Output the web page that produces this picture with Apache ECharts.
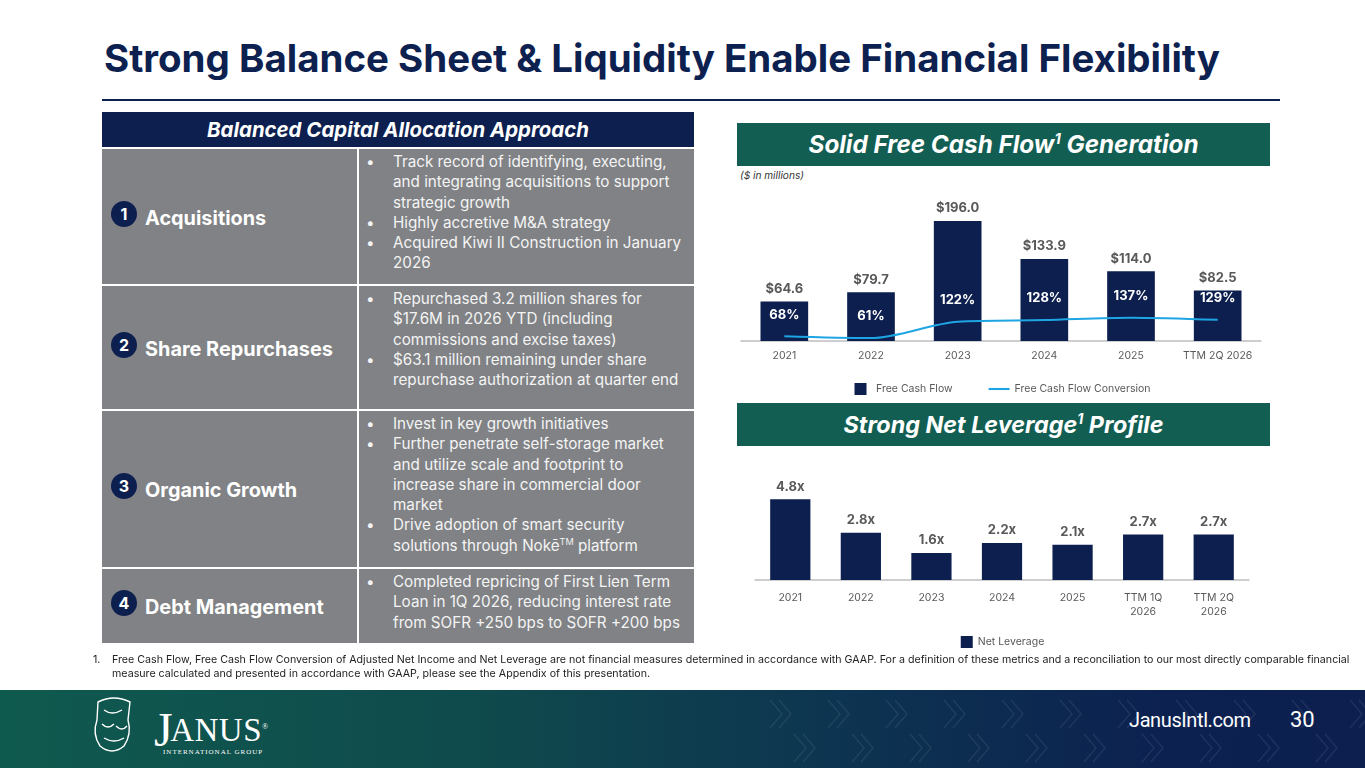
<!DOCTYPE html>
<html>
<head>
<meta charset="utf-8">
<script src="https://cdn.jsdelivr.net/npm/echarts/dist/echarts.min.js"></script>
<style>
	body { margin: 0; width: 1365px; height: 768px; position: relative; overflow: hidden; background: #fff; font-family: Inter, Roboto, "Noto Sans", sans-serif; }
	#title { position: absolute; left: 104px; top: 37px; font-size: 34px; font-weight: 700; color: #0d2150; white-space: nowrap; line-height: 42px; }
	#rule { position: absolute; left: 102px; top: 99px; width: 1178px; height: 2px; background: #0d2150; }
	.cell { position: absolute; background: #808285; box-sizing: border-box; }
	#tblhead { position: absolute; left: 102px; top: 112px; width: 592px; height: 35px; background: #0d1f4e; color: #fff; font-weight: 700; font-style: italic; text-align: center; line-height: 35px; }
	#tblhead span, .sec span { font-size: 18px; white-space: nowrap; }
	.lbl { display: flex; align-items: center; height: 100%; padding-left: 9px; color: #fff; font-weight: 700; }
	.lbl span { font-size: 18px; white-space: nowrap; position: relative; top: 1px; }
	.num { width: 26px; height: 26px; border-radius: 50%; background: #0d1f4e; color: #fff; font-size: 16px; text-align: center; line-height: 26px; margin-right: 8px; position: relative; top: -3px; flex: none; }
	ul { margin: 0; padding: 3px 8px 0 34px; list-style: none; color: #f4f4f4; font-size: 15px; line-height: 20.3px; }
	li { position: relative; }
	li:before { content: "\2022"; position: absolute; left: -27px; }
	.sec { position: absolute; left: 737px; width: 533px; height: 43px; background: #135e52; color: #fff; font-weight: 700; font-style: italic; text-align: center; line-height: 43px; }
	sup { font-size: 0.6em; vertical-align: super; line-height: 0; }
	#unit { position: absolute; left: 740px; top: 169px; font-size: 10px; font-style: italic; color: #333; white-space: nowrap; }
	#foot { position: absolute; left: 93px; top: 653px; font-size: 10px; color: #222; line-height: 14px; }
	#foot > span { position: absolute; left: 0; }
	#foot div { padding-left: 19px; white-space: nowrap; }
	#footer { position: absolute; left: 0; top: 690px; width: 1365px; height: 78px; background: linear-gradient(90deg, #0f5a4f 0%, #0f4a4c 35%, #0d3550 60%, #0c2150 85%, #0c1f4f 100%); overflow: hidden; }
	#web { position: absolute; left: 1129px; top: 708px; color: #fff; font-family: Roboto, sans-serif; font-size: 20px; letter-spacing: -0.4px; white-space: nowrap; }
	#page { position: absolute; left: 1290px; top: 707px; color: #fff; font-family: Roboto, sans-serif; font-size: 22px; }
	#janus { position: absolute; left: 154px; top: 697px; color: #fff; font-family: "Liberation Serif", "DejaVu Serif", serif; font-size: 33px; letter-spacing: 0.5px; }
	#janus b { font-size: 48px; font-weight: 400; position: relative; top: 5px; margin-right: -3px; }
	#janus i { font-style: normal; font-size: 8px; vertical-align: super; }
	#intl { position: absolute; left: 163px; top: 748px; color: #fff; font-family: "Liberation Serif", serif; font-size: 7px; letter-spacing: 1px; }
	.chart { position: absolute; }
	#probe { position: absolute; left: -2000px; top: 0; white-space: nowrap; font-size: 15px; }
</style>
</head>
<body>
<div id="title">Strong Balance Sheet &amp; Liquidity Enable Financial Flexibility</div>
<div id="rule"></div>

<div id="tblhead"><span id="tblhead_t">Balanced Capital Allocation Approach</span></div>
<div id="tbl"></div>

<div class="sec" style="top:123px"><span id="sec1">Solid Free Cash Flow<sup>1</sup> Generation</span></div>
<div id="unit">($ in millions)</div>
<div class="chart" id="fcf" style="left:730px; top:170px; width:545px; height:230px"></div>
<div class="sec" style="top:403px"><span id="sec2">Strong Net Leverage<sup>1</sup> Profile</span></div>
<div class="chart" id="lev" style="left:730px; top:450px; width:545px; height:210px"></div>

<div id="foot"><span>1.</span><div><span id="foot1">Free Cash Flow, Free Cash Flow Conversion of Adjusted Net Income and Net Leverage are not financial measures determined in accordance with GAAP. For a definition of these metrics and a reconciliation to our most directly comparable financial</span></div><div>measure calculated and presented in accordance with GAAP, please see the Appendix of this presentation.</div></div>

<div id="footer">
	<svg width="1365" height="78" style="position:absolute;left:0;top:0">
		<g fill="none" stroke="#ffffff" stroke-opacity="0.08" stroke-width="1.5" id="chev"></g>
		<g fill="none" stroke="#ffffff" stroke-width="1.4">
			<path d="M98 12 Q114 4 130 12 L128 30 Q132 44 124 56 Q112 66 100 56 Q92 44 97 30 Z"/>
			<path d="M104 20 Q112 26 122 20 M102 34 Q108 40 114 34 M116 36 Q122 42 127 36 M104 48 Q114 54 124 48"/>
		</g>
	</svg>
</div>
<div id="janus"><b>J</b>ANUS<i>®</i></div>
<div id="intl">INTERNATIONAL GROUP</div>
<div id="web">JanusIntl.com</div>
<div id="page">30</div>
<span id="probe">Track record of identifying, executing,</span>

<script>
// free cash flow ($M) and conversion (%)
var fcfYears = ['2021', '2022', '2023', '2024', '2025', 'TTM 2Q 2026'];
var fcfValues = [64.6, 79.7, 196.0, 133.9, 114.0, 82.5];
var fcfConversion = [68, 61, 122, 128, 137, 129];

// net leverage (x)
var levYears = ['2021', '2022', '2023', '2024', '2025', 'TTM 1Q\n2026', 'TTM 2Q\n2026'];
var levValues = [4.8, 2.8, 1.6, 2.2, 2.1, 2.7, 2.7];

// table rows
var rowNames = ['Acquisitions', 'Share Repurchases', 'Organic Growth', 'Debt Management'];
var rowBullets = [
	['Track record of identifying, executing, and integrating acquisitions to support strategic growth', 'Highly accretive M&amp;A strategy', 'Acquired Kiwi II Construction in January 2026'],
	['Repurchased 3.2 million shares for $17.6M in 2026 YTD (including commissions and excise taxes)', '$63.1 million remaining under share repurchase authorization at quarter end'],
	['Invest in key growth initiatives', 'Further penetrate self-storage market and utilize scale and footprint to increase share in commercial door market', 'Drive adoption of smart security solutions through Nok&#275;<sup>TM</sup> platform'],
	['Completed repricing of First Lien Term Loan in 1Q 2026, reducing interest rate from SOFR +250 bps to SOFR +200 bps']
];
var rowTops = [147, 284, 409, 567, 643];

var navy = '#0d1f4e';
var grey = '#595959';
var lineBlue = '#1ea5e3';

// scale an element's font so its text spans w pixels
function fitWidth(el, w) {
	var r = el.getBoundingClientRect().width;
	var fs = parseFloat(getComputedStyle(el).fontSize);
	var n = fs * w / r;
	el.style.fontSize = n + 'px';
	return n;
}

window.onload = function() {
	var html = '';
	for (var i = 0; i < rowNames.length; i++) {
		var t = rowTops[i] + 2, h = rowTops[i + 1] - rowTops[i] - 2;
		html += '<div class="cell" style="left:102px;top:' + t + 'px;width:255px;height:' + h + 'px"><div class="lbl"><div class="num">' + (i + 1) + '</div><span>' + rowNames[i] + '</span></div></div>';
		html += '<div class="cell" style="left:359px;top:' + t + 'px;width:335px;height:' + h + 'px"><ul>';
		for (var j = 0; j < rowBullets[i].length; j++) html += '<li>' + rowBullets[i][j] + '</li>';
		html += '</ul></div>';
	}
	document.getElementById('tbl').innerHTML = html;

	fitWidth(document.getElementById('title'), 1116);
	fitWidth(document.getElementById('tblhead_t'), 382);
	fitWidth(document.getElementById('sec1'), 390);
	fitWidth(document.getElementById('sec2'), 320);
	fitWidth(document.getElementById('unit'), 64);
	var ff = fitWidth(document.getElementById('foot1'), 1240);
	document.getElementById('foot').style.fontSize = ff + 'px';
	document.getElementById('foot1').style.fontSize = '';
	var lbls = document.querySelectorAll('.lbl span');
	var lf = fitWidth(lbls[1], 188);
	for (var k = 0; k < lbls.length; k++) lbls[k].style.fontSize = lf + 'px';
	var bf = fitWidth(document.getElementById('probe'), 274);
	var uls = document.querySelectorAll('ul');
	for (var k = 0; k < uls.length; k++) uls[k].style.fontSize = bf + 'px';

	// faint chevrons in footer
	var ch = '';
	for (var x = 770; x < 1365; x += 58) {
		ch += '<path d="M' + x + ' 10 l12 14 l-12 14 M' + (x + 9) + ' 10 l12 14 l-12 14"/>';
		ch += '<path d="M' + (x + 24) + ' 44 l12 14 l-12 14 M' + (x + 33) + ' 44 l12 14 l-12 14"/>';
	}
	document.getElementById('chev').innerHTML = ch;

	var fcf = echarts.init(document.getElementById('fcf'));
	fcf.setOption({
		textStyle: { fontFamily: 'Inter' },
		animation: false,
		grid: { left: 11, right: 14, top: 18, bottom: 59 },
		legend: {
			top: 208, left: 'center', itemWidth: 21, itemHeight: 12, itemGap: 36,
			textStyle: { color: grey, fontSize: 10.5 },
			data: [
				{ name: 'Free Cash Flow', icon: 'path://M0,0H10V10H0Z' },
				{ name: 'Free Cash Flow Conversion', icon: 'path://M0,0H20V2H0Z', itemStyle: { color: lineBlue, opacity: 1 } }
			]
		},
		xAxis: {
			type: 'category', data: fcfYears,
			axisLine: { lineStyle: { color: '#bfbfbf', width: 1.5 } },
			axisTick: { show: false },
			axisLabel: { color: grey, fontSize: 10.5, margin: 9, interval: 0 }
		},
		yAxis: [
			{ type: 'value', min: 0, max: 250, show: false },
			{ type: 'value', min: 50, max: 620, show: false }
		],
		series: [
			{
				name: 'Free Cash Flow', type: 'bar', data: fcfValues, barWidth: '55%',
				itemStyle: { color: navy },
				label: { show: true, position: 'top', distance: 6, color: grey, fontSize: 13, fontWeight: 'bold',
					formatter: function(p) { return '$' + p.value.toFixed(1); } }
			},
			{
				name: 'Free Cash Flow Conversion', type: 'line', yAxisIndex: 1, data: fcfConversion,
				symbol: 'circle', symbolSize: 2, showSymbol: true, smooth: 0.3, z: 5,
				lineStyle: { color: lineBlue, width: 2 }, itemStyle: { color: 'rgba(0,0,0,0)' },
				label: { show: true, position: 'top', distance: 14, color: '#fff', fontSize: 13, fontWeight: 'bold',
					formatter: '{c}%' }
			}
		]
	});

	var lev = echarts.init(document.getElementById('lev'));
	lev.setOption({
		textStyle: { fontFamily: 'Inter' },
		animation: false,
		grid: { left: 25, right: 26, top: 29, bottom: 80 },
		legend: {
			top: 181, left: 'center', itemWidth: 12, itemHeight: 12,
			textStyle: { color: grey, fontSize: 10.5 },
			data: [{ name: 'Net Leverage', icon: 'rect' }]
		},
		xAxis: {
			type: 'category', data: levYears,
			axisLine: { lineStyle: { color: '#bfbfbf', width: 1.5 } },
			axisTick: { show: false },
			axisLabel: { color: grey, fontSize: 10.5, margin: 11, lineHeight: 14, interval: 0 }
		},
		yAxis: { type: 'value', min: 0, max: 6, show: false },
		series: [{
			name: 'Net Leverage', type: 'bar', data: levValues, barWidth: '57%',
			itemStyle: { color: navy },
			label: { show: true, position: 'top', distance: 6, color: grey, fontSize: 13, fontWeight: 'bold',
				formatter: function(p) { return p.value.toFixed(1) + 'x'; } }
		}]
	});
};
</script>
</body>
</html>
